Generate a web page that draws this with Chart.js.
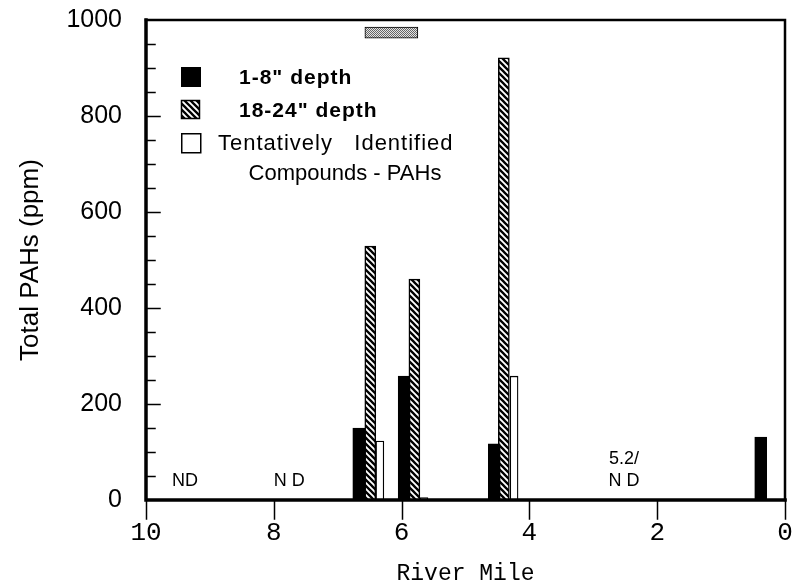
<!DOCTYPE html>
<html>
<head>
<meta charset="utf-8">
<script src="https://cdn.jsdelivr.net/npm/chart.js@4.4.1/dist/chart.umd.min.js"></script>
<style>
  html, body { margin: 0; background: #fff; }
  #wrap { width: 792px; height: 588px; }
</style>
</head>
<body>
<div id="wrap"><canvas id="pahChart"></canvas></div>
<script>
// values (river mile, total PAHs in ppm)
const milesShallow = [6.67, 5.96, 4.55, 0.38];
const pahShallow = [150, 258, 117, 131];
const milesDeep = [6.49, 5.80, 4.40];
const pahDeep = [529, 460, 921];
const milesTic = [6.34, 5.65, 4.24];
const pahTic = [123, 5, 258];
const markerMile = [6.16];
const markerRange = [[962, 985]];
const noteMiles = [9.39, 7.76, 2.52];
const noteLines = [['ND'], ['N D'], ['5.2/', 'N D']];
const noteValues = [40, 40, 40];
const legendLabels = ['1-8" depth', '18-24" depth', 'Tentatively   Identified', 'Compounds - PAHs'];

function toPoints(xs, ys) {
  return xs.map((x, i) => ({x: x, y: ys[i]}));
}

function makeHatch() {
  const c = document.createElement('canvas');
  c.width = 6; c.height = 6;
  const g = c.getContext('2d');
  g.fillStyle = '#fff';
  g.fillRect(0, 0, 6, 6);
  g.strokeStyle = '#000';
  g.lineWidth = 2.3;
  g.beginPath();
  g.moveTo(-6, 0); g.lineTo(6, 12);
  g.moveTo(0, 0); g.lineTo(6, 6);
  g.moveTo(0, -6); g.lineTo(12, 6);
  g.stroke();
  return g.createPattern(c, 'repeat');
}

function makeDots() {
  const c = document.createElement('canvas');
  c.width = 2; c.height = 2;
  const g = c.getContext('2d');
  g.fillStyle = '#e4e4e4';
  g.fillRect(0, 0, 2, 2);
  g.fillStyle = '#666';
  g.fillRect(0, 0, 1, 1);
  g.fillRect(1, 1, 1, 1);
  return g.createPattern(c, 'repeat');
}

const hatch = makeHatch();
const dots = makeDots();

// frame, inward y ticks, outward x ticks, notes and legend
const decorations = {
  id: 'decorations',
  afterDraw(chart) {
    const ctx = chart.ctx;
    const a = chart.chartArea;
    const xs = chart.scales.x, ys = chart.scales.y;
    ctx.save();
    ctx.strokeStyle = '#000';
    ctx.lineCap = 'square';

    ctx.lineWidth = 2.5;
    ctx.beginPath();
    ctx.moveTo(a.left, a.top); ctx.lineTo(a.right, a.top);
    ctx.moveTo(a.right, a.top); ctx.lineTo(a.right, a.bottom);
    ctx.stroke();
    ctx.lineWidth = 3.5;
    ctx.beginPath();
    ctx.moveTo(a.left, a.top); ctx.lineTo(a.left, a.bottom);
    ctx.moveTo(a.left, a.bottom); ctx.lineTo(a.right, a.bottom);
    ctx.stroke();

    ctx.lineWidth = 1.5;
    ctx.beginPath();
    for (let v = 50; v < 1000; v += 50) {
      const y = Math.round(ys.getPixelForValue(v)) + 0.5;
      const len = v % 200 === 0 ? 14 : 9;
      ctx.moveTo(a.left, y); ctx.lineTo(a.left + len, y);
    }
    for (let m = 0; m <= 10; m += 2) {
      const x = Math.round(xs.getPixelForValue(m)) + 0.5;
      ctx.moveTo(x, a.bottom); ctx.lineTo(x, a.bottom + 19);
    }
    ctx.stroke();

    ctx.fillStyle = '#000';
    ctx.textAlign = 'center';
    ctx.textBaseline = 'middle';
    ctx.font = '18px "Liberation Sans", Arial, sans-serif';
    noteMiles.forEach((m, i) => {
      const x = xs.getPixelForValue(m);
      const lines = noteLines[i];
      lines.forEach((t, j) => {
        const y = ys.getPixelForValue(noteValues[i]) - (lines.length - 1 - j) * 22;
        ctx.fillText(t, x, y);
      });
    });

    // legend, placed inside the upper left of the plot
    const lx = a.left + 35, ly = a.top + 47, row = 33;
    ctx.lineWidth = 1.5;
    ctx.fillStyle = '#000';
    ctx.fillRect(lx, ly, 20, 20);
    ctx.fillStyle = hatch;
    ctx.fillRect(lx, ly + row, 19, 19);
    ctx.strokeRect(lx + 0.5, ly + row + 0.5, 18, 18);
    ctx.fillStyle = '#fff';
    ctx.fillRect(lx, ly + 2 * row, 20, 20);
    ctx.strokeRect(lx + 0.75, ly + 2 * row + 0.75, 19, 19);

    ctx.fillStyle = '#000';
    ctx.textAlign = 'left';
    ctx.font = 'bold 21px "Liberation Sans", Arial, sans-serif';
    ctx.letterSpacing = '1px';
    ctx.fillText(legendLabels[0], lx + 58, ly + 11);
    ctx.fillText(legendLabels[1], lx + 58, ly + row + 11);
    ctx.font = '22px "Liberation Sans", Arial, sans-serif';
    ctx.fillText(legendLabels[2], lx + 37, ly + 2 * row + 11);
    ctx.letterSpacing = '0px';
    ctx.textAlign = 'center';
    ctx.fillText(legendLabels[3], lx + 164, ly + 2 * row + 41);
    ctx.restore();
  }
};

new Chart(document.getElementById('pahChart'), {
  type: 'bar',
  data: {
    datasets: [
      {
        label: legendLabels[0],
        data: toPoints(milesShallow, pahShallow),
        backgroundColor: '#000',
        borderColor: '#000',
        borderWidth: 1,
        barThickness: 12
      },
      {
        label: legendLabels[1],
        data: toPoints(milesDeep, pahDeep),
        backgroundColor: hatch,
        borderColor: '#000',
        borderWidth: 1.5,
        barThickness: 11
      },
      {
        label: 'Tentatively Identified Compounds - PAHs',
        data: toPoints(milesTic, pahTic),
        backgroundColor: '#fff',
        borderColor: '#000',
        borderWidth: 1.3,
        barThickness: 8
      },
      {
        label: 'marker',
        data: toPoints(markerMile, markerRange),
        backgroundColor: dots,
        borderColor: '#000',
        borderWidth: 1,
        borderSkipped: false,
        barThickness: 53
      }
    ]
  },
  options: {
    responsive: true,
    maintainAspectRatio: false,
    animation: false,
    devicePixelRatio: 1,
    grouped: false,
    layout: { padding: { top: 20, right: 7, left: 0, bottom: 0 } },
    plugins: {
      legend: { display: false },
      tooltip: { enabled: false }
    },
    scales: {
      x: {
        type: 'linear',
        min: 0,
        max: 10,
        reverse: true,
        offset: false,
        grid: { display: false, offset: false },
        border: { display: false },
        ticks: {
          stepSize: 2,
          padding: 10,
          maxRotation: 0,
          color: '#000',
          font: { family: '"Liberation Mono", monospace', size: 26 }
        },
        title: {
          display: true,
          text: 'River Mile',
          color: '#000',
          padding: { top: 2, bottom: 0 },
          font: { family: '"Liberation Mono", monospace', size: 23 }
        },
        afterFit: s => { s.height = 88; s.paddingRight = 0; s.paddingLeft = 0; }
      },
      y: {
        min: 0,
        max: 1000,
        grid: { display: false },
        border: { display: false },
        ticks: {
          stepSize: 50,
          autoSkip: false,
          padding: 16,
          color: '#000',
          font: { family: '"Liberation Sans", Arial, sans-serif', size: 25 },
          callback: v => (v % 200 === 0 ? String(v) : '')
        },
        title: {
          display: true,
          text: 'Total PAHs (ppm)',
          color: '#000',
          padding: { top: 15, bottom: 0 },
          font: { family: '"Liberation Sans", Arial, sans-serif', size: 26 }
        },
        afterFit: s => { s.width = 146; s.paddingTop = 0; s.paddingBottom = 0; }
      }
    }
  },
  plugins: [decorations]
});
</script>
</body>
</html>
